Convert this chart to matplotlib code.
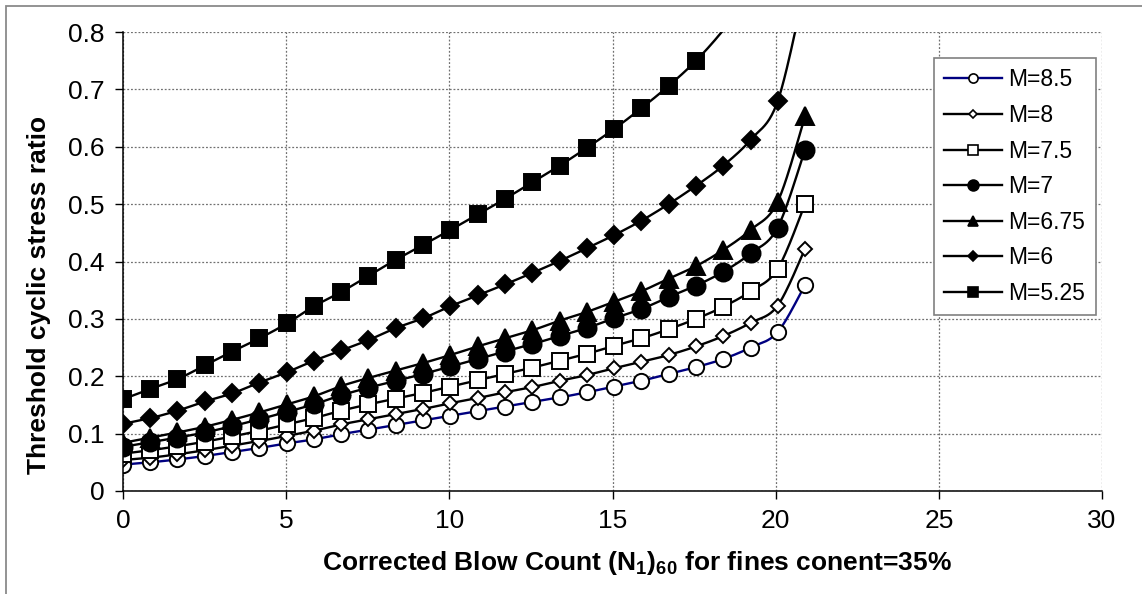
import numpy as np
import matplotlib
matplotlib.use("Agg")
import matplotlib.pyplot as plt
from matplotlib.lines import Line2D
from matplotlib.patches import Rectangle

plt.rcParams['font.family'] = ['Liberation Sans', 'DejaVu Sans']
plt.rcParams['mathtext.fontset'] = 'custom'
plt.rcParams['mathtext.rm'] = 'Liberation Sans'
plt.rcParams['mathtext.bf'] = 'Liberation Sans:bold'

# Corrected blow count (N1)60
n160 = [0, 0.84, 1.67, 2.51, 3.34, 4.18, 5.02, 5.85, 6.69, 7.52, 8.36, 9.2, 10.03,
        10.87, 11.7, 12.54, 13.38, 14.21, 15.05, 15.88, 16.72, 17.56, 18.39, 19.23,
        20.06, 20.9]

# threshold cyclic stress ratio for each magnitude
csr_m85 = [0.046, 0.050, 0.055, 0.061, 0.068, 0.075, 0.083, 0.090, 0.099, 0.107, 0.115,
           0.123, 0.131, 0.139, 0.147, 0.155, 0.163, 0.172, 0.182, 0.192, 0.204, 0.216,
           0.230, 0.250, 0.277, 0.359]
csr_m8 = [0.054, 0.058, 0.064, 0.071, 0.079, 0.087, 0.096, 0.105, 0.116, 0.125, 0.134,
          0.143, 0.153, 0.162, 0.172, 0.181, 0.192, 0.202, 0.214, 0.225, 0.237, 0.252,
          0.270, 0.293, 0.323, 0.422]
csr_m75 = [0.065, 0.071, 0.078, 0.086, 0.095, 0.105, 0.116, 0.127, 0.140, 0.151, 0.161,
           0.171, 0.182, 0.193, 0.204, 0.215, 0.227, 0.239, 0.253, 0.266, 0.282, 0.300,
           0.321, 0.348, 0.387, 0.500]
csr_m7 = [0.077, 0.085, 0.093, 0.102, 0.113, 0.125, 0.138, 0.151, 0.167, 0.180, 0.192,
          0.204, 0.217, 0.230, 0.243, 0.256, 0.270, 0.284, 0.301, 0.317, 0.338, 0.358,
          0.382, 0.414, 0.459, 0.595]
csr_m675 = [0.084, 0.093, 0.102, 0.112, 0.124, 0.137, 0.151, 0.165, 0.183, 0.197, 0.210,
            0.223, 0.237, 0.252, 0.266, 0.280, 0.297, 0.312, 0.330, 0.348, 0.370, 0.392,
            0.420, 0.455, 0.504, 0.653]
csr_m6 = [0.117, 0.127, 0.140, 0.156, 0.170, 0.189, 0.207, 0.227, 0.245, 0.263, 0.284,
          0.301, 0.322, 0.341, 0.360, 0.380, 0.401, 0.423, 0.446, 0.471, 0.500, 0.532,
          0.567, 0.612, 0.679, 0.880]
csr_m525 = [0.160, 0.178, 0.195, 0.219, 0.243, 0.266, 0.292, 0.322, 0.347, 0.375, 0.403,
            0.429, 0.455, 0.482, 0.509, 0.538, 0.567, 0.598, 0.631, 0.667, 0.706, 0.750,
            0.803, 0.866, 0.963, 1.245]

labels = ['M=8.5', 'M=8', 'M=7.5', 'M=7', 'M=6.75', 'M=6', 'M=5.25']
series = [csr_m85, csr_m8, csr_m75, csr_m7, csr_m675, csr_m6, csr_m525]
markers = ['o', 'D', 's', 'o', '^', 'D', 's']
sizes = [11, 7.5, 12, 13, 12.5, 9, 12]
filled = [False, False, False, True, True, True, True]
linecolors = ['#000080', 'k', 'k', 'k', 'k', 'k', 'k']


def smooth(xs, ys, n=24):
    # cubic Bezier through every point, tangents from neighbours
    p = np.column_stack([xs, ys]).astype(float)
    out = [p[0]]
    t = np.linspace(0, 1, n)[1:, None]
    for i in range(len(p) - 1):
        p0 = p[i - 1] if i > 0 else p[i]
        p1, p2 = p[i], p[i + 1]
        p3 = p[i + 2] if i + 2 < len(p) else p[i + 1]
        c1 = p1 + (p2 - p0) / 6
        c2 = p2 - (p3 - p1) / 6
        seg = (1 - t)**3 * p1 + 3 * (1 - t)**2 * t * c1 + 3 * (1 - t) * t**2 * c2 + t**3 * p2
        out.extend(seg)
    return np.array(out)


fig = plt.figure(figsize=(11.42, 5.94), dpi=100)
ax = fig.add_axes([123 / 1142, 1 - 491 / 594, (1102 - 123) / 1142, (491 - 32) / 594])

handles = []
x = np.array(n160)
for y, lab, mk, ms, fill, lc in zip(series, labels, markers, sizes, filled, linecolors):
    y = np.array(y)
    curve = smooth(x, y)
    ax.plot(curve[:, 0], curve[:, 1], color=lc, lw=1.7)
    ym = np.where(y <= 0.8, y, np.nan)
    fc = 'k' if fill else 'white'
    ax.plot(x, ym, ls='none', marker=mk, ms=ms, mfc=fc, mec='k', mew=1.4)
    handles.append(Line2D([], [], color=lc, lw=1.7, marker=mk, ms=ms * 0.6,
                          mfc=fc, mec='k', mew=1.2, label=lab))

ax.set_xlim(0, 30)
ax.set_ylim(0, 0.8)
ax.set_xticks(np.arange(0, 31, 5))
ax.set_yticks(np.arange(0, 0.81, 0.1))
ax.set_yticklabels(['0', '0.1', '0.2', '0.3', '0.4', '0.5', '0.6', '0.7', '0.8'])
ax.tick_params(direction='out', length=6, width=1, labelsize=19, pad=7)
ax.grid(True, color='#707070', lw=0.9, ls=(0, (1.5, 1.5)))
ax.set_axisbelow(True)
for s in ['top', 'right']:
    ax.spines[s].set_visible(False)
for s in ['left', 'bottom']:
    ax.spines[s].set_linewidth(1.1)

leg = ax.legend(handles=handles, loc='upper left',
                bbox_to_anchor=(934 / 1142, 1 - 58 / 594), bbox_transform=fig.transFigure,
                fontsize=16.5, handlelength=2.5, handletextpad=0.3, labelspacing=0.55,
                borderpad=0.45, fancybox=False, framealpha=1, edgecolor='#808080',
                borderaxespad=0)
leg.get_frame().set_linewidth(1.2)

fig.text(39 / 1142, 1 - 295 / 594, 'Threshold cyclic stress ratio', rotation=90,
         ha='center', va='center', fontsize=19, fontweight='bold')
fig.text(637 / 1142, 1 - 570 / 594,
         r'Corrected Blow Count (N$_{\mathbf{1}}$)$_{\mathbf{60}}$ for fines conent=35%',
         ha='center', va='baseline', fontsize=19, fontweight='bold')

# outer chart frame
fig.patches.append(Rectangle((6 / 1142, -0.05), 1.2, 1.05 - 6 / 594,
                             transform=fig.transFigure, fill=False,
                             edgecolor='#8a8a8a', lw=1.3))

fig.savefig('out.png', dpi=100)
